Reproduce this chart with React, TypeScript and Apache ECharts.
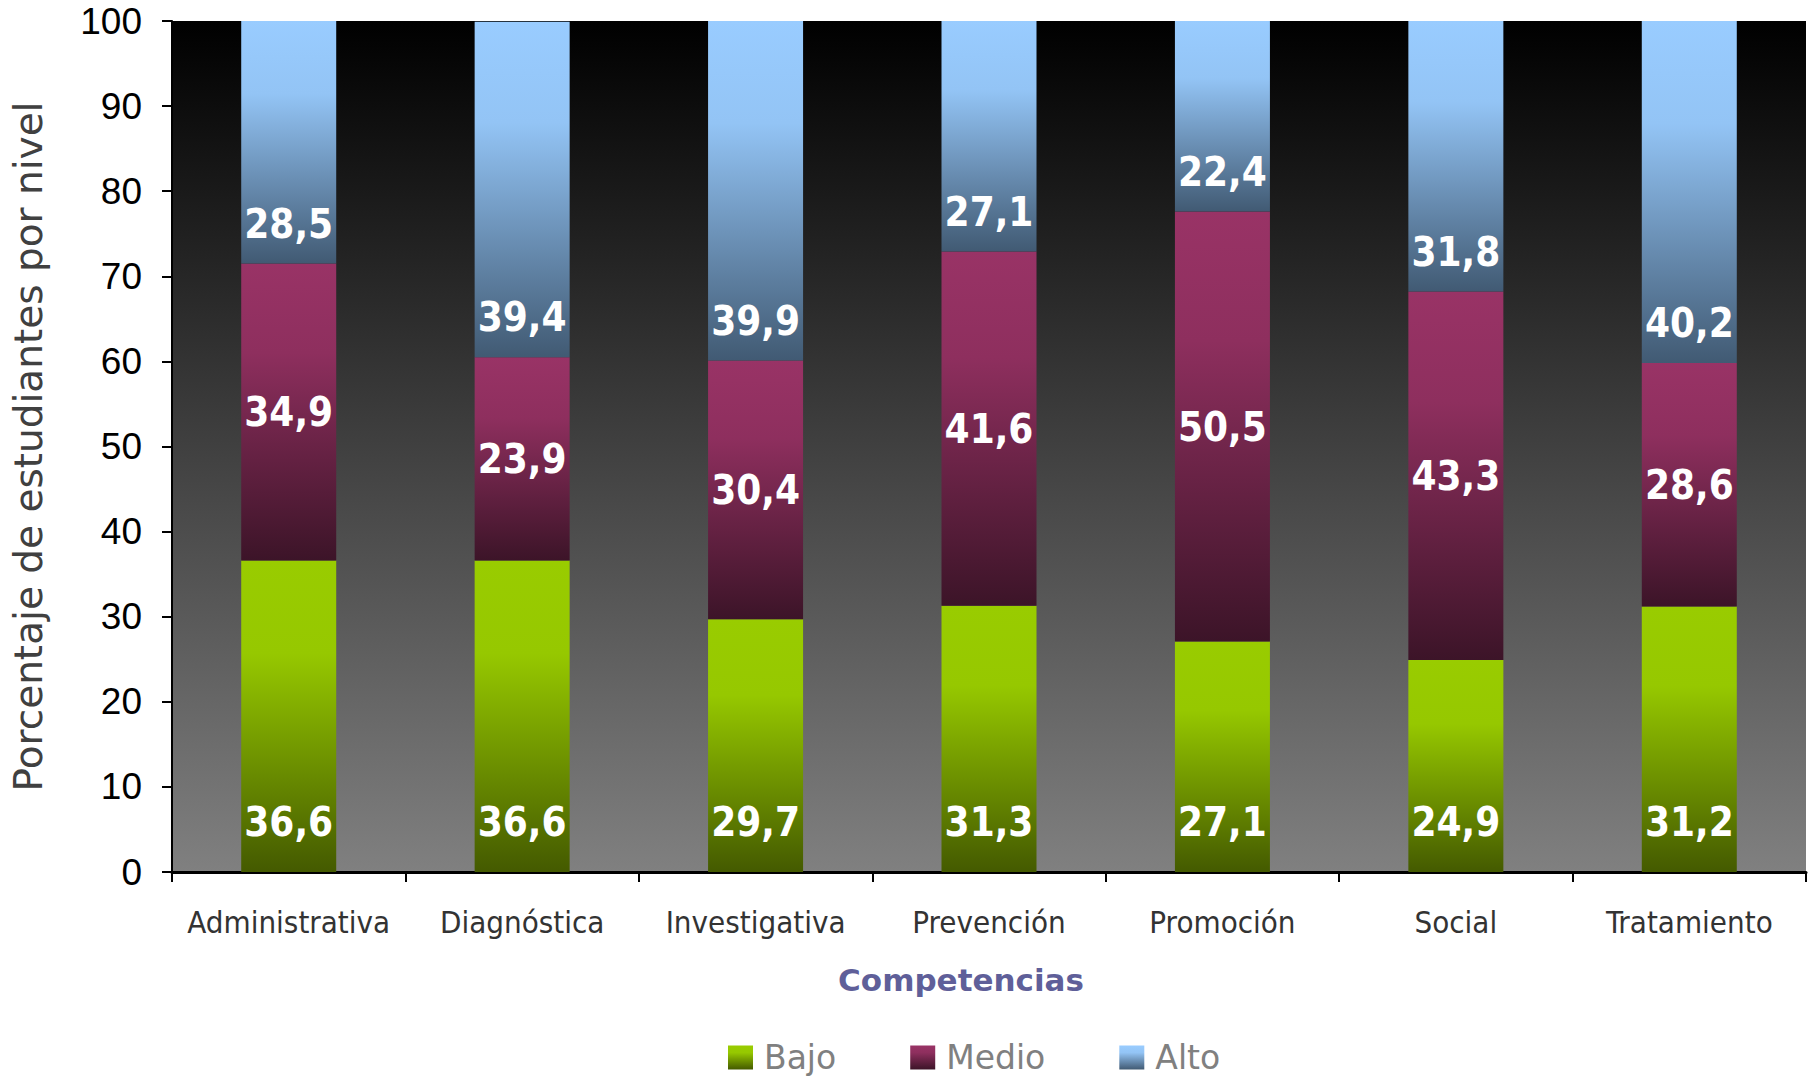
import React, { useEffect, useRef } from "react";
import * as echarts from "echarts";

const categories = ["Administrativa", "Diagnóstica", "Investigativa", "Prevención", "Promoción", "Social", "Tratamiento"];
const seriesNames = ["Bajo", "Medio", "Alto"];
const bajo = [36.6, 36.6, 29.7, 31.3, 27.1, 24.9, 31.2];
const medio = [34.9, 23.9, 30.4, 41.6, 50.5, 43.3, 28.6];
const alto = [28.5, 39.4, 39.9, 27.1, 22.4, 31.8, 40.2];
const yMin = 0;
const yMax = 100;
const yInterval = 10;

const grad = (top: string, mid: string, bottom: string) =>
  new echarts.graphic.LinearGradient(0, 0, 0, 1, [
    { offset: 0, color: top },
    { offset: 0.3, color: mid },
    { offset: 1, color: bottom },
  ]);

const fmt = (p: any) => Number(p.value).toFixed(1).replace(".", ",");

const labelBase = {
  show: true,
  color: "#ffffff",
  fontFamily: "DejaVu Sans Condensed",
  fontWeight: "bold" as const,
  fontSize: 40,
  formatter: fmt,
};

export default function App() {
  const ref = useRef<HTMLDivElement>(null);
  useEffect(() => {
    if (!ref.current) return;
    const chart = echarts.init(ref.current, null, { renderer: "svg" });
    chart.setOption({
      animation: false,
      backgroundColor: "#ffffff",
      grid: {
        left: 172,
        right: 2,
        top: 21,
        bottom: 210,
        show: true,
        borderWidth: 0,
        backgroundColor: new echarts.graphic.LinearGradient(0, 0, 0, 1, [
          { offset: 0, color: "#000000" },
          { offset: 1, color: "#808080" },
        ]),
      },
      legend: {
        left: 723,
        top: 1036,
        icon: "rect",
        itemWidth: 25,
        itemHeight: 24,
        itemGap: 74,
        data: seriesNames,
        textStyle: {
          color: "#808080",
          fontFamily: "DejaVu Sans",
          fontSize: 33,
          padding: [0, 0, 0, 6],
        },
      },
      xAxis: {
        type: "category",
        data: categories,
        name: "Competencias",
        nameLocation: "middle",
        nameGap: 92,
        nameTextStyle: {
          color: "#5f5f99",
          fontFamily: "DejaVu Sans",
          fontWeight: "bold",
          fontSize: 31,
          padding: [0, 56, 0, 0],
        },
        axisLine: { show: true, lineStyle: { color: "#000000", width: 3 } },
        axisTick: { show: true, interval: 0, length: 10, lineStyle: { color: "#000000", width: 2 } },
        axisLabel: {
          interval: 0,
          color: "#333333",
          fontFamily: "DejaVu Sans Condensed",
          fontSize: 31,
          margin: 34,
        },
      },
      yAxis: {
        type: "value",
        min: yMin,
        max: yMax,
        interval: yInterval,
        name: "Porcentaje de estudiantes por nivel",
        nameLocation: "middle",
        nameGap: 124,
        nameTextStyle: {
          color: "#404040",
          fontFamily: "DejaVu Sans",
          fontSize: 39,
        },
        axisLine: { show: true, lineStyle: { color: "#000000", width: 2 } },
        axisTick: { show: true, length: 10, lineStyle: { color: "#000000", width: 2 } },
        splitLine: { show: false },
        axisLabel: {
          color: "#000000",
          fontFamily: "Liberation Sans",
          fontSize: 37,
          margin: 30,
        },
      },
      series: [
        {
          name: "Bajo",
          type: "bar",
          stack: "total",
          barWidth: 95,
          data: bajo,
          itemStyle: { color: grad("#99cc00", "#96c800", "#445a00") },
          label: { ...labelBase, position: "insideBottom", distance: 30 },
        },
        {
          name: "Medio",
          type: "bar",
          stack: "total",
          barWidth: 95,
          data: medio,
          itemStyle: { color: grad("#993366", "#8e2f5e", "#3c1428") },
          label: { ...labelBase, position: "inside" },
        },
        {
          name: "Alto",
          type: "bar",
          stack: "total",
          barWidth: 95,
          data: alto,
          itemStyle: { color: grad("#99ccff", "#93c4f5", "#415a73") },
          label: { ...labelBase, position: "insideBottom", distance: 20 },
        },
      ],
    });
    return () => chart.dispose();
  }, []);
  return (
    <div
      ref={ref}
      style={{ position: "absolute", left: 0, top: 0, width: 1808, height: 1082 }}
    />
  );
}
